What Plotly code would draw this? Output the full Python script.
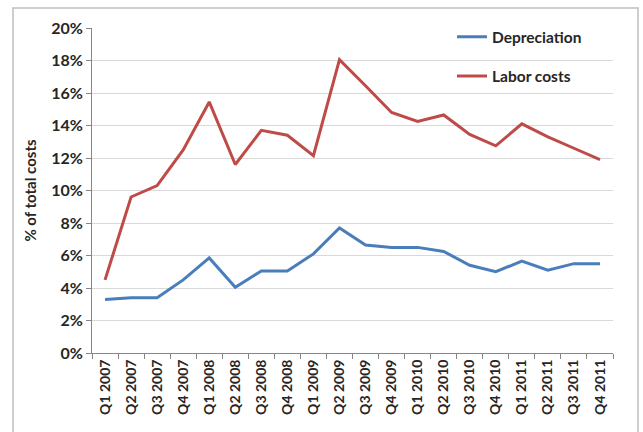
import plotly.graph_objects as go

quarters = ["Q1 2007", "Q2 2007", "Q3 2007", "Q4 2007",
            "Q1 2008", "Q2 2008", "Q3 2008", "Q4 2008",
            "Q1 2009", "Q2 2009", "Q3 2009", "Q4 2009",
            "Q1 2010", "Q2 2010", "Q3 2010", "Q4 2010",
            "Q1 2011", "Q2 2011", "Q3 2011", "Q4 2011"]
depreciation = [3.3, 3.4, 3.4, 4.5, 5.85, 4.05, 5.05, 5.05, 6.1, 7.7,
                6.65, 6.5, 6.5, 6.25, 5.4, 5.0, 5.65, 5.1, 5.5, 5.5]
labor_costs = [4.5, 9.6, 10.3, 12.5, 15.45, 11.6, 13.7, 13.4, 12.15, 18.05,
               16.45, 14.8, 14.25, 14.65, 13.45, 12.75, 14.1, 13.3, 12.6, 11.9]
y_ticks = [0, 2, 4, 6, 8, 10, 12, 14, 16, 18, 20]
y_tick_labels = [f"{v}%" for v in y_ticks]

FONT = "Lato"
TXT = "#262626"

fig = go.Figure()
fig.add_trace(go.Scatter(x=quarters, y=depreciation, mode="lines", name="Depreciation",
                         line=dict(color="#4A7EBB", width=3), legendgroup="a"))
fig.add_trace(go.Scatter(x=quarters, y=labor_costs, mode="lines", name="Labor costs",
                         line=dict(color="#BE4B48", width=3), legendgroup="b"))

fig.update_layout(
    width=643, height=432,
    margin=dict(l=92, r=30, t=28, b=79),
    paper_bgcolor="white", plot_bgcolor="white",
    font=dict(family=FONT, color=TXT, size=13),
    showlegend=True,
    legend=dict(x=0.691, y=1.024, xanchor="left", yanchor="top",
                bgcolor="rgba(0,0,0,0)", tracegroupgap=16,
                font=dict(family=FONT, size=15.5, color=TXT, weight="bold")),
    xaxis=dict(
        type="category", showgrid=False, showline=True, linecolor="#868686", linewidth=1,
        ticks="outside", tickson="boundaries", ticklen=5, tickcolor="#868686",
        tickangle=-90, tickfont=dict(family=FONT, size=14, color=TXT, weight="bold"),
        range=[-0.5, 19.5],
    ),
    yaxis=dict(
        range=[0, 20], tickvals=y_ticks, ticktext=y_tick_labels,
        showgrid=True, gridcolor="#D9D9D9", gridwidth=1,
        showline=True, linecolor="#868686", linewidth=1,
        ticks="outside", ticklen=5, tickcolor="#868686",
        tickfont=dict(family=FONT, size=16, color=TXT, weight="bold"),
        title=dict(text="% of total costs", font=dict(family=FONT, size=15, color=TXT, weight="bold"),
                   standoff=10),
        zeroline=False,
    ),
    shapes=[dict(type="rect", xref="paper", yref="paper",
                 x0=(13 - 92) / 521, x1=(638 - 92) / 521,
                 y0=(353 - 445) / 325, y1=(353 - 8) / 325,
                 line=dict(color="#BFBFBF", width=1.5), fillcolor="rgba(0,0,0,0)", layer="below")],
)

fig.write_html("out.html")
